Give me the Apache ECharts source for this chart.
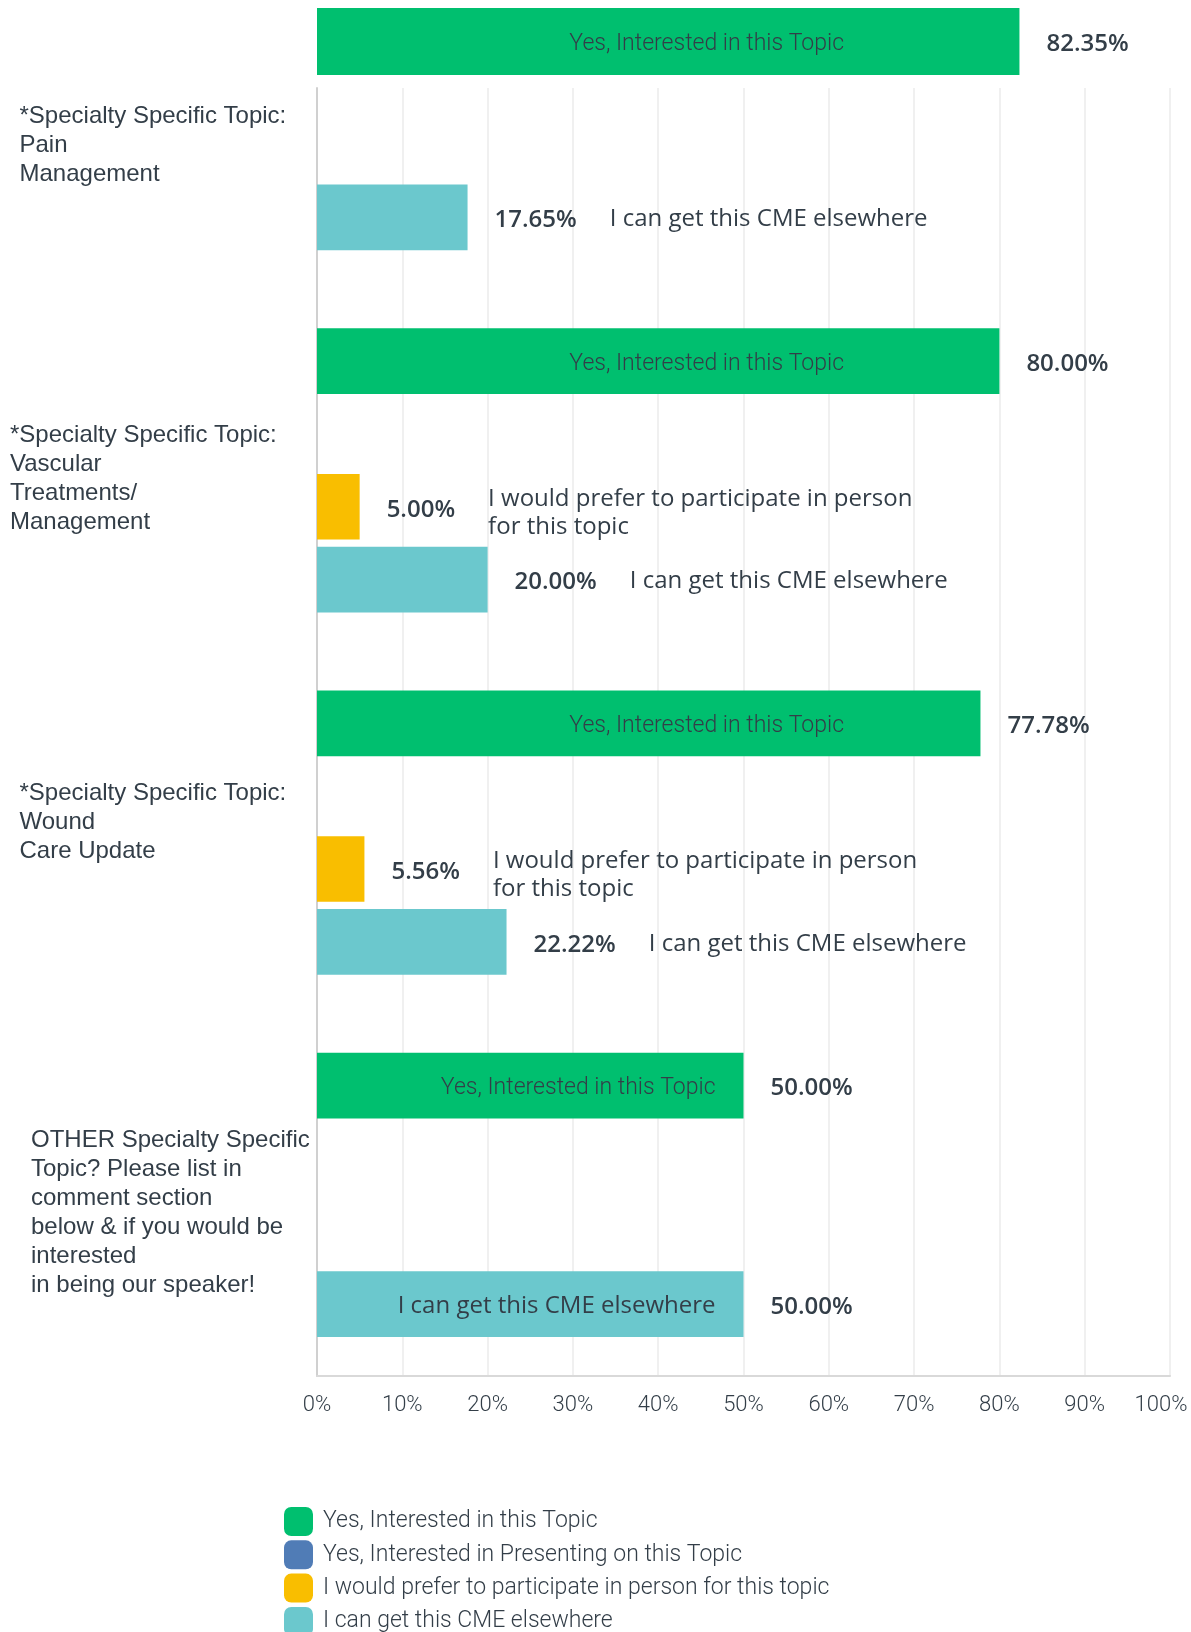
<!DOCTYPE html>
<html>
<head>
<meta charset="utf-8">
<script src="https://cdn.jsdelivr.net/npm/echarts@6/dist/echarts.min.js"></script>
<style>
  html, body { margin: 0; padding: 0; background: #fff; }
  #chart { width: 1191px; height: 1632px; }
</style>
</head>
<body>
<div id="chart"></div>
<script>
// categories, top to bottom
const categories = [
  '*Specialty Specific Topic:\nPain\nManagement',
  '*Specialty Specific Topic:\nVascular\nTreatments/\nManagement',
  '*Specialty Specific Topic:\nWound\nCare Update',
  'OTHER Specialty Specific\nTopic? Please list in\ncomment section\nbelow & if you would be\ninterested\nin being our speaker!'
];
const seriesNames = [
  'Yes, Interested in this Topic',
  'Yes, Interested in Presenting on this Topic',
  'I would prefer to participate in person for this topic',
  'I can get this CME elsewhere'
];
// same names, wrapped the way they show next to the bars
const barNames = [
  'Yes, Interested in this Topic',
  'Yes, Interested in Presenting on this Topic',
  'I would prefer to participate in person\nfor this topic',
  'I can get this CME elsewhere'
];
const interested = [82.35, 80.00, 77.78, 50.00];
const presenting = [0, 0, 0, 0];
const inPerson   = [0, 5.00, 5.56, 0];
const elsewhere  = [17.65, 20.00, 22.22, 50.00];
const values = [interested, presenting, inPerson, elsewhere];

const colors = ['#00bf6f', '#507cb6', '#f9be00', '#6bc8cd'];
const textColor = '#333e48';

// layout
const plotLeft = 317, plotW = 853;
const barH = 65.6;
// category label nudges seen in the original: [left pad, spacer above, spacer below]
const catNudge = [[9.5, 74, 0], [0, 17, 0], [9.5, 0, 21], [21, 35, 0]];

const valueFont = { fontFamily: 'Open Sans', fontWeight: 600, fontSize: 24, color: textColor, offset: [0, 3] };
const nameFont = { fontFamily: 'Open Sans', fontWeight: 400, fontSize: 24, color: textColor, lineHeight: 28, offset: [0, 2] };
const insideFont = { fontFamily: 'Roboto', fontWeight: 300, fontSize: 23, color: textColor, offset: [0, 3] };
const catFont = { fontFamily: 'Liberation Sans', fontSize: 24, lineHeight: 29, color: textColor };

const ctx = document.createElement('canvas').getContext('2d');
function textWidth(str) {
  ctx.font = '600 24px "Open Sans"';
  return ctx.measureText(str).width;
}
const fmt = v => v.toFixed(2) + '%';

// label for the series name, placed on a transparent copy of the bar
function nameItem(v, s) {
  if (typeof v !== 'number' || v <= 0) return { value: v, label: { show: false } };
  if (v >= 50) {
    const px = Math.min(v / 100 * plotW - 28, 527);
    return {
      value: v,
      label: Object.assign({ show: true, position: [px, '50%'], align: 'right', verticalAlign: 'middle',
        formatter: barNames[s] }, s === 0 ? insideFont : nameFont)
    };
  }
  const multi = barNames[s].indexOf('\n') >= 0;
  return {
    value: v,
    label: Object.assign({}, nameFont, { show: true, position: 'right', distance: 27 + textWidth(fmt(v)) + 33,
      formatter: barNames[s], offset: multi ? [0, 6] : [0, 2] })
  };
}

// rich styles for the category labels
const catRich = {};
catNudge.forEach((n, i) => {
  catRich['t' + i] = Object.assign({ padding: [0, 0, 0, n[0]] }, catFont);
  catRich['a' + i] = { fontSize: 1, lineHeight: n[1] };
  catRich['b' + i] = { fontSize: 1, lineHeight: n[2] };
});
function catLabel(value) {
  const i = categories.indexOf(value);
  const n = catNudge[i];
  const lines = value.split('\n').map(l => '{t' + i + '|' + l + '}');
  if (n[1]) lines.unshift('{a' + i + '| }');
  if (n[2]) lines.push('{b' + i + '| }');
  return lines.join('\n');
}

const series = [];
values.forEach((vals, s) => {
  // first green bar is drawn in the small top grid
  const data = vals.map((v, i) => (s === 0 && i === 0) ? '-' : v);
  series.push({
    type: 'bar', name: seriesNames[s], xAxisIndex: 0, yAxisIndex: 0,
    data: data, barWidth: barH, barGap: '11%',
    itemStyle: { color: colors[s] },
    label: Object.assign({ show: true, position: 'right', distance: 27,
      formatter: p => (typeof p.value === 'number' && p.value > 0) ? fmt(p.value) : '' }, valueFont)
  });
});
values.forEach((vals, s) => {
  series.push({
    type: 'bar', name: 'names' + s, xAxisIndex: 0, yAxisIndex: 1, silent: true,
    data: vals.map((v, i) => nameItem((s === 0 && i === 0) ? '-' : v, s)),
    barWidth: barH, barGap: '11%',
    itemStyle: { color: 'transparent' }
  });
});
// top grid: first category's green bar
series.push({
  type: 'bar', name: seriesNames[0], xAxisIndex: 1, yAxisIndex: 2,
  data: [interested[0]], barCategoryGap: '0%',
  itemStyle: { color: colors[0] },
  label: Object.assign({ show: true, position: 'right', distance: 27, formatter: p => fmt(p.value) }, valueFont)
});
series.push({
  type: 'bar', name: 'names-top', xAxisIndex: 1, yAxisIndex: 3, silent: true,
  data: [nameItem(interested[0], 0)], barCategoryGap: '0%',
  itemStyle: { color: 'transparent' }
});
// empty series so the axis grid gets drawn
series.push({ type: 'bar', name: 'axis', xAxisIndex: 2, yAxisIndex: 4, data: [] });

const hiddenX = { type: 'value', min: 0, max: 100, show: false };

const option = {
  animation: false,
  backgroundColor: '#fff',
  grid: [
    { left: plotLeft, width: plotW, top: -73, height: 1449, outerBoundsMode: 'none' },
    { left: plotLeft, width: plotW, top: 8, height: 67, outerBoundsMode: 'none' },
    { left: plotLeft, width: plotW, top: 88, height: 1288, outerBoundsMode: 'none' }
  ],
  xAxis: [
    Object.assign({ gridIndex: 0 }, hiddenX),
    Object.assign({ gridIndex: 1 }, hiddenX),
    {
      gridIndex: 2, type: 'value', min: 0, max: 100, interval: 10,
      axisLine: { show: true, lineStyle: { color: '#d9d9d9', width: 2 } },
      axisTick: { show: false },
      splitLine: { show: true, lineStyle: { color: '#ebebeb', width: 1.5 } },
      axisLabel: {
        margin: 18, fontFamily: 'Roboto', fontWeight: 300, fontSize: 22, color: textColor,
        formatter: v => v === 100 ? '{e|100%}' : v + '%',
        rich: { e: { fontFamily: 'Roboto', fontWeight: 300, fontSize: 22, color: textColor, padding: [0, 18, 0, 0] } }
      }
    }
  ],
  yAxis: [
    {
      gridIndex: 0, type: 'category', inverse: true, data: categories,
      axisLine: { show: false }, axisTick: { show: false }, splitLine: { show: false },
      axisLabel: Object.assign({ interval: 0, margin: 307, align: 'left', formatter: catLabel, rich: catRich }, catFont)
    },
    { gridIndex: 0, type: 'category', inverse: true, data: categories, show: false },
    { gridIndex: 1, type: 'category', data: [categories[0]], show: false },
    { gridIndex: 1, type: 'category', data: [categories[0]], show: false },
    {
      gridIndex: 2, type: 'category', data: [''],
      axisLine: { show: true, lineStyle: { color: '#d0d0d0', width: 2 } },
      axisTick: { show: false }, axisLabel: { show: false }, splitLine: { show: false }
    }
  ],
  legend: {
    data: seriesNames,
    orient: 'vertical', left: 284, top: 1507, height: 200, padding: 0,
    itemWidth: 29, itemHeight: 29, itemGap: 4.3,
    icon: 'roundRect',
    textStyle: { fontFamily: 'Roboto', fontWeight: 300, fontSize: 23, color: textColor, padding: [0, 0, 0, 5] }
  },
  series: series
};

const chart = echarts.init(document.getElementById('chart'), null, { renderer: 'canvas' });
chart.setOption(option);
</script>
</body>
</html>
